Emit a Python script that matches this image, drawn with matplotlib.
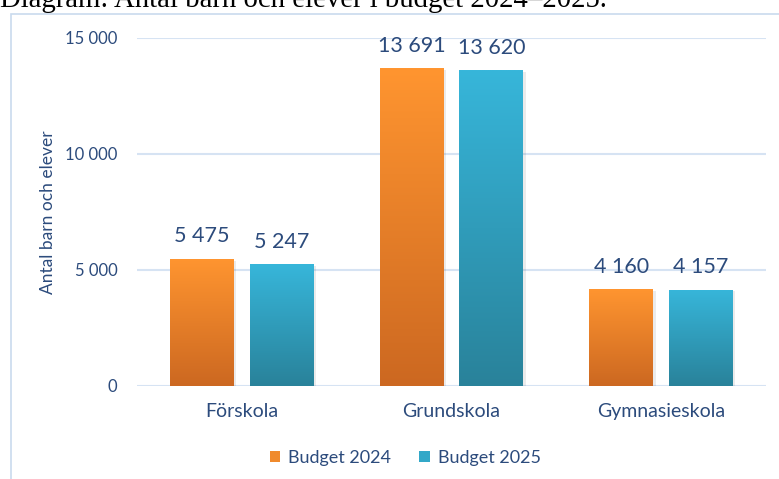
import matplotlib
matplotlib.use('agg')
import matplotlib.pyplot as plt
import numpy as np
from matplotlib.patches import Rectangle, Patch
from matplotlib.colors import LinearSegmentedColormap

categories = ['Förskola', 'Grundskola', 'Gymnasieskola']
budget_2024 = [5475, 13691, 4160]
budget_2025 = [5247, 13620, 4157]
value_labels_2024 = ['5 475', '13 691', '4 160']
value_labels_2025 = ['5 247', '13 620', '4 157']
yticks = [0, 5000, 10000, 15000]
ytick_labels = ['0', '5 000', '10 000', '15 000']

txt = '#2C4B7C'
font = 'Lato'

fig = plt.figure(figsize=(7.79, 4.79), dpi=100)
fig.patch.set_facecolor('white')

# caption of the page, cut off at the top like in the source
fig.text(0.0, 1 - 7 / 479, 'Diagram: Antal barn och elever i budget 2024\u20132025.',
         family='Liberation Serif', fontsize=20.7, color='black', va='baseline', ha='left')

# chart frame
fig.patches.append(Rectangle((11 / 779, -0.1), 1.0, 1 - 14 / 479 + 0.1,
                             transform=fig.transFigure, fill=False,
                             edgecolor='#C9DAEE', linewidth=1.2))

ax = fig.add_axes([137 / 779, 93 / 479, 629 / 779, 348 / 479])
x = np.arange(len(categories))
w = 0.305
off = 0.19

cm_orange = LinearSegmentedColormap.from_list('o', ['#CC6821', '#FF9530'])
cm_blue = LinearSegmentedColormap.from_list('b', ['#29829A', '#37B6DA'])
grad = np.linspace(0, 1, 256).reshape(-1, 1)

bars1 = ax.bar(x - off, budget_2024, w, color='#F08A2C', zorder=3)
bars2 = ax.bar(x + off, budget_2025, w, color='#33A8C8', zorder=3)

for bars, cmap in [(bars1, cm_orange), (bars2, cm_blue)]:
    for b in bars:
        x0, y0 = b.get_x(), b.get_y()
        x1, y1 = x0 + b.get_width(), y0 + b.get_height()
        im = ax.imshow(grad, cmap=cmap, origin='lower', aspect='auto',
                       extent=[x0, x1, y0, y1], zorder=4)
        im.set_clip_path(b)
        # soft shadow
        ax.add_patch(Rectangle((x1, y0), 0.012, b.get_height() - 80,
                               color='#000000', alpha=0.08, zorder=2, lw=0))

for bars, labels in [(bars1, value_labels_2024), (bars2, value_labels_2025)]:
    for b, lab in zip(bars, labels):
        ax.annotate(lab, (b.get_x() + b.get_width() / 2, b.get_height()),
                    xytext=(0, 9), textcoords='offset points', ha='center', va='bottom',
                    fontsize=15.5, color=txt, family=font)

ax.set_xlim(-0.5, 2.5)
ax.set_ylim(0, 15000)
ax.set_yticks(yticks)
ax.set_yticklabels(ytick_labels, family=font, fontsize=12, color=txt)
ax.set_xticks(x)
ax.set_xticklabels(categories, family=font, fontsize=14, color=txt)
ax.tick_params(axis='both', length=0)
ax.tick_params(axis='y', pad=14)
ax.tick_params(axis='x', pad=12)
ax.grid(axis='y', color='#D6E3F3', linewidth=1.5, zorder=0)
for s in ax.spines.values():
    s.set_visible(False)
ax.set_axisbelow(True)

ax.set_ylabel('Antal barn och elever', family=font, fontsize=12.5, color=txt)
ax.yaxis.set_label_coords(-(137 - 56) / 629, 0.5)

handles = [Patch(facecolor='#F08A2C'), Patch(facecolor='#33A8C8')]
leg = fig.legend(handles, ['Budget 2024', 'Budget 2025'], loc='center',
                 bbox_to_anchor=(405 / 779, 1 - 458 / 479), ncol=2, frameon=False,
                 prop={'family': font, 'size': 13}, handlelength=0.6, handleheight=0.6,
                 handletextpad=0.4, columnspacing=1.6)
for t in leg.get_texts():
    t.set_color(txt)

fig.savefig('out.png', dpi=100)
